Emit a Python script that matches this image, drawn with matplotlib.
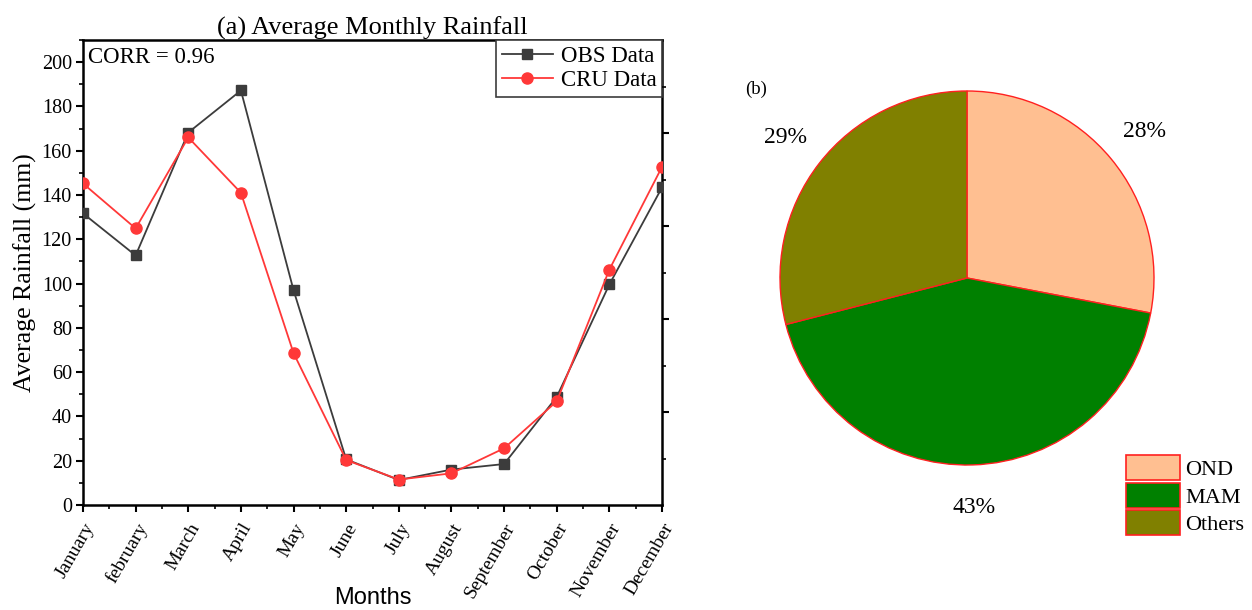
import matplotlib
matplotlib.use("Agg")
import matplotlib.pyplot as plt
from matplotlib.ticker import MultipleLocator, FixedLocator, NullFormatter
from matplotlib.patches import Patch

months = ["January", "february", "March", "April", "May", "June", "July",
          "August", "September", "October", "November", "December"]
obs_rain = [131.7, 112.7, 168.2, 187.2, 97.0, 20.6, 11.3, 16.0, 18.5, 48.8, 99.6, 143.4]
cru_rain = [145.2, 124.9, 166.0, 141.0, 68.6, 20.3, 11.5, 14.3, 25.6, 46.8, 106.3, 152.7]

seasons = ["OND", "MAM", "Others"]
season_share = [28, 43, 29]
season_colors = ["#FFBF91", "#008000", "#808000"]

serif = ["Liberation Serif", "DejaVu Serif"]
plt.rcParams["font.family"] = serif

fig = plt.figure(figsize=(12.52, 6.10), dpi=100)

# ---- (a) monthly rainfall line chart ----
ax = fig.add_axes([83 / 1252, 1 - 505 / 610, 579 / 1252, 465 / 610])
x = list(range(len(months)))
ax.plot(x, obs_rain, color="#3c3c3c", lw=1.3, marker="s", ms=7,
        label="OBS Data", zorder=3)
ax.plot(x, cru_rain, color="#ff3838", lw=1.3, marker="o", ms=8,
        label="CRU Data", zorder=4)
ax.set_xlim(0, 11)
ax.set_ylim(0, 210)
ax.set_yticks(range(0, 201, 20))
ax.yaxis.set_minor_locator(MultipleLocator(10))
ax.set_xticks(x)
ax.xaxis.set_minor_locator(MultipleLocator(0.5))
ax.set_xticklabels(months, rotation=60, ha="right", rotation_mode="anchor",
                   fontsize=14)
ax.tick_params(axis="x", which="major", pad=6)
ax.tick_params(axis="y", labelsize=14.5, pad=3)
ax.tick_params(which="major", direction="out", length=5, width=1.5)
ax.tick_params(which="minor", direction="out", length=3, width=1.2)
ax.tick_params(top=False, right=False)
for sp in ax.spines.values():
    sp.set_linewidth(1.8)

# right-hand spine carries its own unlabeled ticks
axr = ax.twinx()
axr.set_ylim(0, 10)
axr.yaxis.set_major_locator(FixedLocator([2, 4, 6, 8]))
axr.yaxis.set_minor_locator(FixedLocator([1, 3, 5, 7, 9]))
axr.yaxis.set_major_formatter(NullFormatter())
axr.tick_params(which="major", direction="out", length=5, width=1.5)
axr.tick_params(which="minor", direction="out", length=3, width=1.2)
for sp in axr.spines.values():
    sp.set_visible(False)

ax.set_title("(a) Average Monthly Rainfall", fontsize=19, pad=4)
ax.set_ylabel("Average Rainfall (mm)", fontsize=18.5, labelpad=3)
ax.set_xlabel("Months", fontsize=17, family=["Liberation Sans", "DejaVu Sans"],
              va="center")
ax.xaxis.set_label_coords(0.5, -93 / 465)
ax.text(0.008, 0.985, "CORR = 0.96", transform=ax.transAxes, fontsize=16.5,
        ha="left", va="top")
leg = ax.legend(loc="upper right", borderaxespad=0, fontsize=16.5,
                fancybox=False, edgecolor="#3c3c3c", framealpha=1,
                handlelength=2.2, handletextpad=0.35, borderpad=0.25,
                labelspacing=0.15)
leg.get_frame().set_linewidth(1.2)

# ---- (b) seasonal share pie ----
axp = fig.add_axes([767 / 1252, 1 - 478 / 610, 400 / 1252, 400 / 610])
wedges, texts, autotexts = axp.pie(
    season_share, colors=season_colors, startangle=90, counterclock=False,
    radius=1.0, autopct="%d%%", pctdistance=1.23,
    wedgeprops=dict(edgecolor="#ff2020", linewidth=1.0),
    textprops=dict(fontsize=17))
axp.set_xlim(-200 / 187, 200 / 187)
axp.set_ylim(-200 / 187, 200 / 187)
axp.set_aspect("equal")
axp.axis("off")

fig.text(745 / 1252, 1 - 89 / 610, "(b)", fontsize=13.5, ha="left", va="center")

handles = [Patch(facecolor=c, edgecolor="#ff2020", linewidth=1.2) for c in season_colors]
fig.legend(handles, seasons, loc="upper left",
           bbox_to_anchor=(1124 / 1252, 1 - 453 / 610), fontsize=16,
           frameon=False, handlelength=2.4, handleheight=1.35,
           handletextpad=0.25, labelspacing=0.12, borderpad=0.1,
           borderaxespad=0)

fig.savefig("out.png", dpi=100)
